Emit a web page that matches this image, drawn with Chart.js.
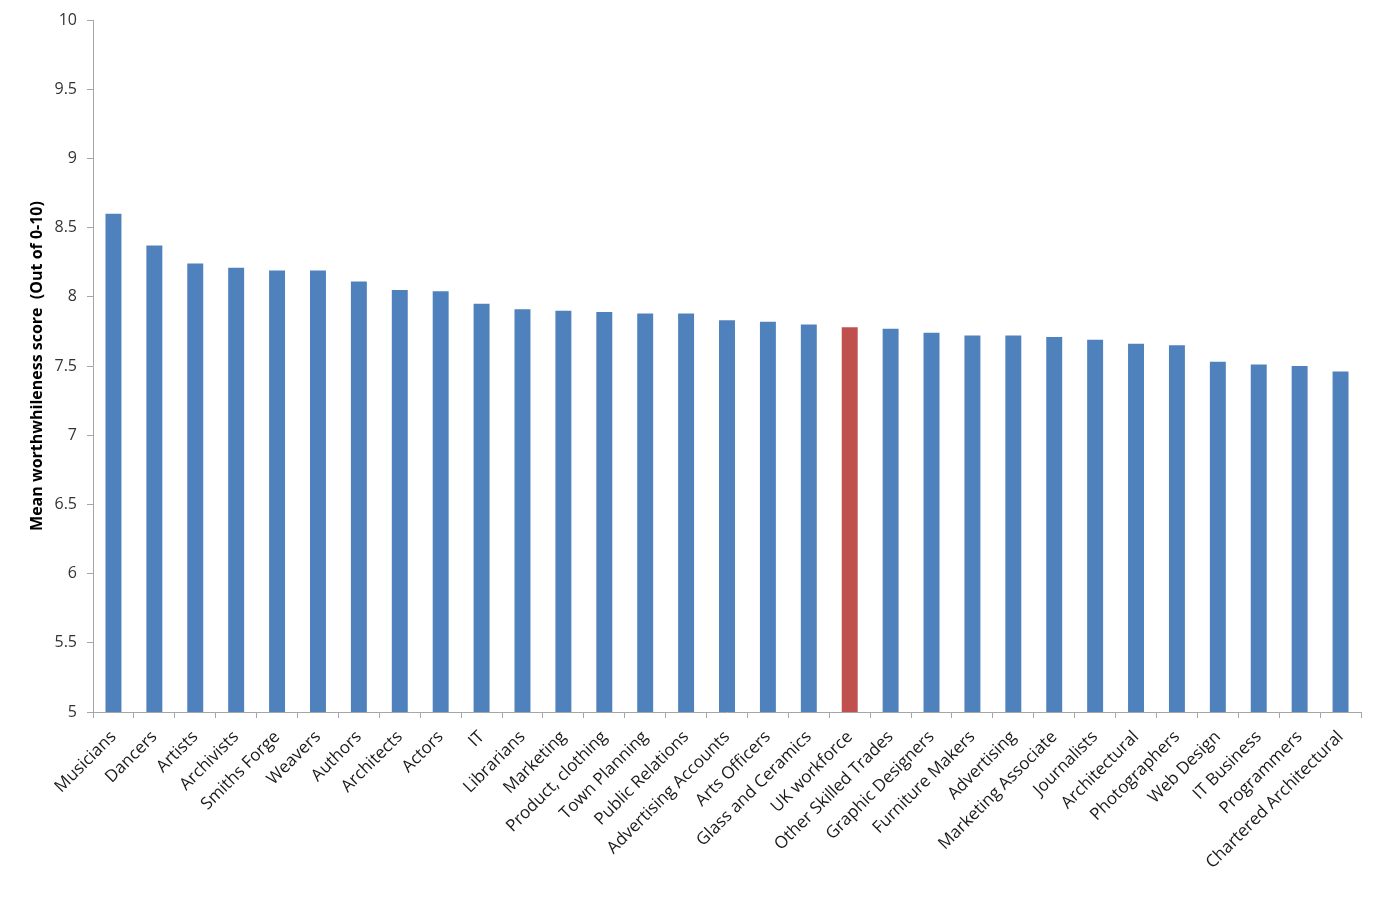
<!DOCTYPE html>
<html>
<head>
<meta charset="utf-8">
<style>
html,body{margin:0;padding:0;background:#fff;}
#wrap{width:1381px;height:902px;position:relative;}
</style>
<script src="https://cdn.jsdelivr.net/npm/chart.js@4.4.0/dist/chart.umd.min.js"></script>
</head>
<body>
<div id="wrap"><canvas id="c" width="1381" height="902"></canvas></div>
<script>
const categories = ["Musicians","Dancers","Artists","Archivists","Smiths Forge","Weavers","Authors","Architects","Actors","IT","Librarians","Marketing","Product, clothing","Town Planning","Public Relations","Advertising Accounts","Arts Officers","Glass and Ceramics","UK workforce","Other Skilled Trades","Graphic Designers","Furniture Makers","Advertising","Marketing Associate","Journalists","Architectural","Photographers","Web Design","IT Business","Programmers","Chartered Architectural"];
const scores = [8.60,8.37,8.24,8.21,8.19,8.19,8.11,8.05,8.04,7.95,7.91,7.90,7.89,7.88,7.88,7.83,7.82,7.80,7.78,7.77,7.74,7.72,7.72,7.71,7.69,7.66,7.65,7.53,7.51,7.50,7.46];
const highlight = "UK workforce";
const yTicks = [5,5.5,6,6.5,7,7.5,8,8.5,9,9.5,10];
const yTitle = "Mean worthwhileness score  (Out of 0-10)";

const barColors = categories.map(c => c === highlight ? "#C0504D" : "#4F81BD");

new Chart(document.getElementById("c"), {
  type: "bar",
  data: {
    labels: categories,
    datasets: [{
      data: scores,
      backgroundColor: barColors,
      borderWidth: 0,
      barPercentage: 0.39,
      categoryPercentage: 1.0
    }]
  },
  options: {
    responsive: false,
    animation: false,
    devicePixelRatio: 1,
    layout: { padding: { left: 24, right: 20, top: 20, bottom: 0 } },
    plugins: { legend: { display: false }, tooltip: { enabled: false } },
    scales: {
      x: {
        grid: { display: true, drawOnChartArea: false, offset: true, color: "#A6A6A6", tickLength: 6 },
        border: { color: "#A6A6A6", width: 1 },
        ticks: {
          autoSkip: false, maxRotation: 45, minRotation: 45,
          color: "#1a1a1a", padding: 9,
          font: { family: "'Open Sans', sans-serif", size: 17 }
        },
        afterFit: s => { s.height = 190; }
      },
      y: {
        min: 5, max: 10,
        afterBuildTicks: s => { s.ticks = yTicks.map(v => ({ value: v })); },
        grid: { display: true, drawOnChartArea: false, color: "#A6A6A6", tickLength: 6 },
        border: { color: "#A6A6A6", width: 1 },
        ticks: {
          color: "#333333", padding: 10,
          font: { family: "'Open Sans', sans-serif", size: 16 },
          callback: v => String(v)
        },
        title: {
          display: true, text: yTitle, color: "#000",
          font: { family: "'Open Sans', sans-serif", size: 16, weight: "bold" },
          padding: { top: 4, bottom: 4 }
        },
        afterFit: s => { s.width = 69; }
      }
    }
  }
});
</script>
</body>
</html>
